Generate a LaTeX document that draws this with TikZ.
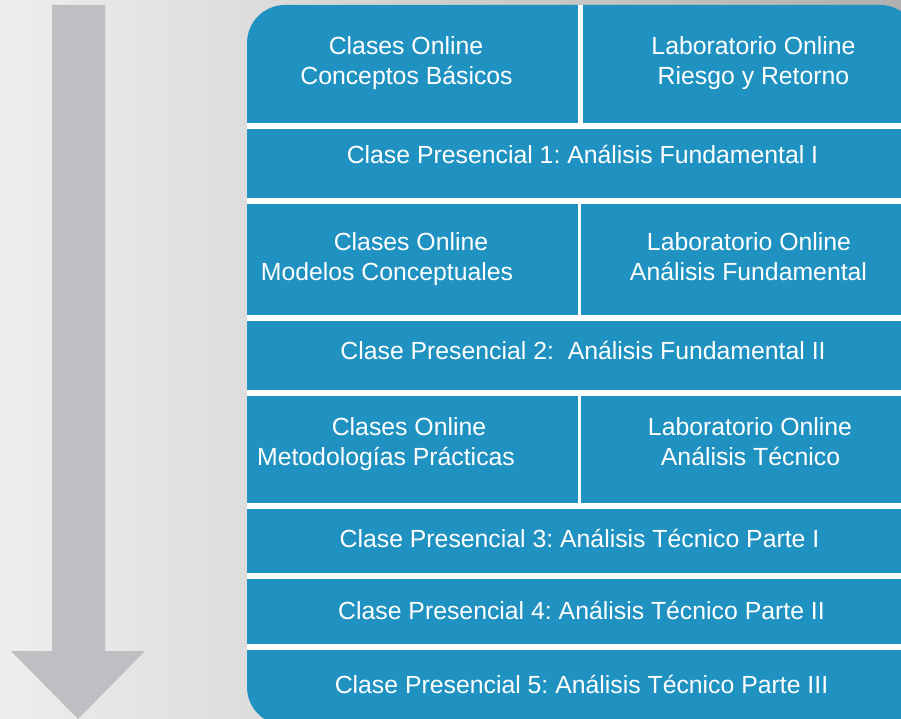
\documentclass[tikz,border=0pt]{standalone}
\usepackage{fontspec}
\setmainfont{Liberation Sans}
\frenchspacing
\definecolor{panelblue}{HTML}{1F92C1}
\definecolor{arrowgray}{HTML}{BEBFC3}
\definecolor{bgleft}{HTML}{EEEEEE}
\definecolor{bgright}{HTML}{B0B0B0}
\tikzset{
  txt/.style={text=white, anchor=base, inner sep=0pt, font=\fontsize{24.8}{30}\selectfont},
  sep/.style={fill=white, draw=none},
}
\begin{document}
\begin{tikzpicture}[x=1pt,y=-1pt]
\useasboundingbox (0,0) rectangle (901,719);
% background
\shade[left color=bgleft, right color=bgright] (0,0) rectangle (901,719);
% arrow
\fill[arrowgray] (52,5) -- (105,5) -- (105,651) -- (145,651) -- (78,719) -- (11,651) -- (52,651) -- cycle;
% panel
\begin{scope}
\clip (0,0) rectangle (901,719);
\fill[panelblue, rounded corners=38pt] (247,5) rectangle (918,725);
\end{scope}
% separators
\foreach \ya/\yb in {123/129,198/204,315/321,390/396,503/509,573/579,644/650}
  \fill[sep] (247,\ya) rectangle (901,\yb);
\fill[sep] (578,5) rectangle (583,123);
\fill[sep] (578,204) rectangle (581,315);
\fill[sep] (578,396) rectangle (581,503);
% texts
\node[txt] (a1) at (406,54.5) {Clases Online};
\node[txt] (a2) at (406.5,85) {Conceptos Básicos};
\node[txt] (b1) at (753.5,54.5) {Laboratorio Online};
\node[txt] (b2) at (753.5,85) {Riesgo y Retorno};
\node[txt] (c1) at (582.5,163.3) {Clase Presencial 1: Análisis Fundamental I};
\node[txt] (d1) at (411,250.5) {Clases Online};
\node[txt] (d2) at (387,280.5) {Modelos Conceptuales};
\node[txt] (e1) at (749,250.5) {Laboratorio Online};
\node[txt] (e2) at (748.5,280.5) {Análisis Fundamental};
\node[txt] (f1) at (583,359) {Clase Presencial 2:~~Análisis Fundamental II};
\node[txt] (g1) at (409,435) {Clases Online};
\node[txt] (g2) at (386,465) {Metodologías Prácticas};
\node[txt] (h1) at (750,435) {Laboratorio Online};
\node[txt] (h2) at (750.5,465) {Análisis Técnico};
\node[txt] (i1) at (579.5,547) {Clase Presencial 3: Análisis Técnico Parte I};
\node[txt] (j1) at (581.5,619) {Clase Presencial 4: Análisis Técnico Parte II};
\node[txt] (k1) at (581.5,693) {Clase Presencial 5: Análisis Técnico Parte III};
\end{tikzpicture}
\end{document}
